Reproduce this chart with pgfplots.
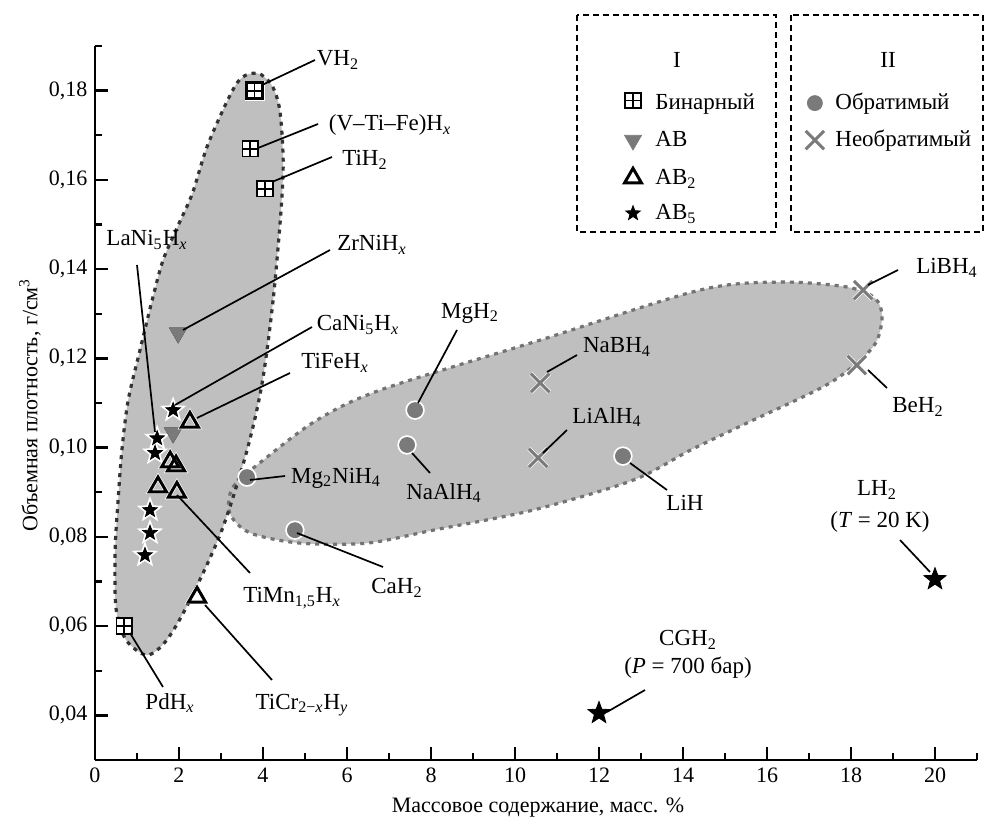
\documentclass[border=0pt]{standalone}
\usepackage{fontspec}
\setmainfont{Liberation Serif}
\usepackage{pgfplots}
\pgfplotsset{compat=1.18}
\definecolor{regfill}{gray}{0.75}
\definecolor{mk}{gray}{0.48}
\definecolor{dashg}{gray}{0.45}
\newcommand{\s}[1]{\textsubscript{#1}}
\newcommand{\sx}{\textsubscript{\textit{x}}}
\pgfdeclareplotmark{gridsq}{%
  \pgfpathrectangle{\pgfpoint{-\pgfplotmarksize}{-\pgfplotmarksize}}{\pgfpoint{2\pgfplotmarksize}{2\pgfplotmarksize}}%
  \pgfusepathqfillstroke
  \pgfsetlinewidth{0.9pt}%
  \pgfpathmoveto{\pgfpoint{-\pgfplotmarksize}{0pt}}\pgfpathlineto{\pgfpoint{\pgfplotmarksize}{0pt}}%
  \pgfpathmoveto{\pgfpoint{0pt}{-\pgfplotmarksize}}\pgfpathlineto{\pgfpoint{0pt}{\pgfplotmarksize}}%
  \pgfusepathqstroke}
\pgfdeclareplotmark{fstar}{%
  \pgfpathmoveto{\pgfpointpolar{90}{\pgfplotmarksize}}%
  \pgfpathlineto{\pgfpointpolar{126}{0.42\pgfplotmarksize}}%
  \pgfpathlineto{\pgfpointpolar{162}{\pgfplotmarksize}}%
  \pgfpathlineto{\pgfpointpolar{198}{0.42\pgfplotmarksize}}%
  \pgfpathlineto{\pgfpointpolar{234}{\pgfplotmarksize}}%
  \pgfpathlineto{\pgfpointpolar{270}{0.42\pgfplotmarksize}}%
  \pgfpathlineto{\pgfpointpolar{306}{\pgfplotmarksize}}%
  \pgfpathlineto{\pgfpointpolar{342}{0.42\pgfplotmarksize}}%
  \pgfpathlineto{\pgfpointpolar{18}{\pgfplotmarksize}}%
  \pgfpathlineto{\pgfpointpolar{54}{0.42\pgfplotmarksize}}%
  \pgfpathclose
  \pgfusepathqfillstroke}
\pgfplotsset{
  halo/.style={only marks, forget plot, mark options={draw=white, fill=white, line width=2.2pt}},
}
\begin{document}
\fontsize{11}{13}\selectfont
\begin{tikzpicture}
\useasboundingbox (-47.5pt,-32.5pt) rectangle (445.5pt,380pt);
\begin{axis}[
  at={(0pt,0pt)}, anchor=south west,
  scale only axis, width=441pt, height=357pt,
  xmin=0, xmax=21, ymin=0.03, ymax=0.19,
  axis lines=left, axis line style={-, line width=1.2pt},
  tick align=inside,
  xtick={0,2,4,6,8,10,12,14,16,18,20},
  minor xtick={1,3,5,7,9,11,13,15,17,19,21},
  ytick={0.04,0.06,0.08,0.10,0.12,0.14,0.16,0.18},
  minor ytick={0.05,0.07,0.09,0.11,0.13,0.15,0.17,0.19},
  major tick length=6.5pt, minor tick length=3.5pt,
  every tick/.style={black, line width=1.2pt},
  tick label style={font=\fontsize{11}{13}\selectfont},
  /pgf/number format/assume math mode=true,
  yticklabel style={/pgf/number format/.cd, fixed, fixed zerofill, precision=2, use comma},
  clip=false,
]
% regions
\addplot[draw=none, fill=regfill, smooth cycle, forget plot] coordinates {
(3.21,0.0853) (3.29,0.0912) (4.10,0.0979) (5.29,0.1062) (6.79,0.1129) (10.6,0.1241) (14.4,0.1353) (16.31,0.1371) (17.9,0.1360) (18.57,0.1335) (18.74,0.1292) (18.52,0.1225) (17.5,0.1145) (15.52,0.1055) (14.17,0.0994) (12.81,0.0927) (10.43,0.0860) (8.05,0.0815) (6.48,0.0786) (4.88,0.0786) (3.69,0.0809)};
\addplot[draw=none, fill=regfill, smooth cycle, forget plot] coordinates {
(4.43,0.1532) (4.24,0.1330) (3.98,0.1145) (3.62,0.0994) (3.02,0.0815) (2.26,0.0658) (1.71,0.0569) (1.24,0.0535) (0.74,0.0569) (0.50,0.0640) (0.48,0.0770) (0.55,0.0882) (0.64,0.0994) (0.79,0.1106) (1.07,0.1218) (1.36,0.1330) (1.62,0.1420) (1.98,0.1498) (2.32,0.1570) (2.70,0.1682) (3.38,0.1817) (3.86,0.1839) (4.21,0.1812) (4.40,0.1756) (4.48,0.1644)};
\addplot[draw=dashg, line width=1.6pt, dash pattern=on 2pt off 2.5pt, smooth cycle, forget plot] coordinates {
(3.21,0.0853) (3.29,0.0912) (4.10,0.0979) (5.29,0.1062) (6.79,0.1129) (10.6,0.1241) (14.4,0.1353) (16.31,0.1371) (17.9,0.1360) (18.57,0.1335) (18.74,0.1292) (18.52,0.1225) (17.5,0.1145) (15.52,0.1055) (14.17,0.0994) (12.81,0.0927) (10.43,0.0860) (8.05,0.0815) (6.48,0.0786) (4.88,0.0786) (3.69,0.0809)};
\addplot[draw=black!80, line width=1.6pt, dash pattern=on 2pt off 2.5pt, smooth cycle, forget plot] coordinates {
(4.43,0.1532) (4.24,0.1330) (3.98,0.1145) (3.62,0.0994) (3.02,0.0815) (2.26,0.0658) (1.71,0.0569) (1.24,0.0535) (0.74,0.0569) (0.50,0.0640) (0.48,0.0770) (0.55,0.0882) (0.64,0.0994) (0.79,0.1106) (1.07,0.1218) (1.36,0.1330) (1.62,0.1420) (1.98,0.1498) (2.32,0.1570) (2.70,0.1682) (3.38,0.1817) (3.86,0.1839) (4.21,0.1812) (4.40,0.1756) (4.48,0.1644)};
% binary
\addplot[halo, mark=gridsq, mark size=3.9pt] coordinates {(3.8,0.180) (3.7,0.167) (4.05,0.158) (0.7,0.060)};
\addplot[only marks, mark=gridsq, mark size=3.9pt, mark options={draw=black, fill=white, line width=1.5pt}] coordinates {(3.8,0.180) (3.7,0.167) (4.05,0.158) (0.7,0.060) (12.81,0.1778)};
% AB5 stars
\addplot[halo, mark=fstar, mark size=3.8pt] coordinates {(1.86,0.1084) (1.48,0.1021) (1.43,0.0988) (1.31,0.0860) (1.31,0.0809) (1.19,0.0759)};
\addplot[only marks, mark=fstar, mark size=3.8pt, mark options={draw=black, fill=black, line width=0.4pt}] coordinates {(1.86,0.1084) (1.48,0.1021) (1.43,0.0988) (1.31,0.0860) (1.31,0.0809) (1.19,0.0759) (12.81,0.1525)};
% AB
\addplot[halo, mark=triangle*, mark size=4.9pt, mark options={rotate=180}] coordinates {(1.98,0.1257) (1.86,0.1033)};
\addplot[only marks, mark=triangle*, mark size=4.9pt, mark options={rotate=180, draw=mk, fill=mk, line width=0.4pt}] coordinates {(1.98,0.1257) (1.86,0.1033) (12.81,0.1689)};
% AB2
\addplot[halo, mark=triangle, mark size=4.9pt] coordinates {(2.26,0.1057) (1.79,0.0968) (1.93,0.0959) (1.5,0.0912) (1.95,0.0900) (2.43,0.0665)};
\addplot[only marks, mark=triangle, mark size=4.9pt, mark options={draw=black, fill=none, line width=1.5pt}] coordinates {(2.26,0.1057) (1.79,0.0968) (1.93,0.0959) (1.5,0.0912) (1.95,0.0900) (2.43,0.0665) (12.81,0.1604)};
% reversible
\addplot[halo, mark=*, mark size=3.75pt] coordinates {(7.62,0.1084) (7.43,0.1006) (3.62,0.0934) (4.76,0.0815) (12.57,0.0981)};
\addplot[only marks, mark=*, mark size=3.75pt, mark options={draw=mk, fill=mk, line width=0.4pt}] coordinates {(7.62,0.1084) (7.43,0.1006) (3.62,0.0934) (4.76,0.0815) (12.57,0.0981) (17.14,0.1772)};
% irreversible
\addplot[halo, mark=x, mark size=6.5pt] coordinates {(10.6,0.1145) (10.55,0.0977) (18.29,0.1353) (18.14,0.1185)};
\addplot[only marks, mark=x, mark size=6.5pt, mark options={draw=mk, line width=1.5pt}] coordinates {(10.6,0.1145) (10.55,0.0977) (18.29,0.1353) (18.14,0.1185) (17.14,0.1689)};
% CGH2, LH2
\addplot[only marks, mark=fstar, mark size=5.8pt, mark options={draw=black, fill=black, line width=0.4pt}] coordinates {(12,0.0405) (20,0.0705)};
\end{axis}
\begin{scope}[x=0.5pt, y=-0.5pt, shift={(-47.5pt,380pt)}, every node/.style={font=\fontsize{11.5}{13}\selectfont, inner sep=0pt}]
% leader lines
\begin{scope}[line width=0.85pt]
\draw (262,85)--(315,60);
\draw (258,148)--(318,124);
\draw (272,182)--(332,157);
\draw (183,330)--(330,250);
\draw (137,265)--(155,432);
\draw (175,405)--(312,327);
\draw (197,418)--(290,373);
\draw (418,403)--(457,330);
\draw (547,372)--(577,355);
\draw (543,453)--(567,430);
\draw (250,480)--(285,476);
\draw (412,453)--(430,473);
\draw (630,463)--(667,490);
\draw (297,533)--(383,567);
\draw (177,495)--(250,573);
\draw (130,633)--(163,687);
\draw (205,605)--(272,680);
\draw (868,285)--(898,270);
\draw (868,370)--(887,388);
\draw (900,540)--(930,572);
\draw (607,712)--(645,690);
\end{scope}
% labels
\node at (338,60) {VH\s{2}};
\node at (390,125) {(V–Ti–Fe)H\sx};
\node at (365,160) {TiH\s{2}};
\node at (372,245) {ZrNiH\sx};
\node at (147,240) {LaNi\s{5}H\sx};
\node at (358,325) {CaNi\s{5}H\sx};
\node at (335,363) {TiFeH\sx};
\node at (470,313) {MgH\s{2}};
\node at (617,347) {NaBH\s{4}};
\node at (607,417) {LiAlH\s{4}};
\node at (336,478) {Mg\s{2}NiH\s{4}};
\node at (444,493) {NaAlH\s{4}};
\node at (685,503) {LiH};
\node at (397,588) {CaH\s{2}};
\node at (292,598) {TiMn\s{1,5}H\sx};
\node at (170,703) {PdH\sx};
\node at (302,705) {TiCr\s{2−\textit{x}}H\s{\textit{y}}};
\node at (947,268) {LiBH\s{4}};
\node at (918,407) {BeH\s{2}};
\node at (877,490) {LH\s{2}};
\node at (880,522) {(\textit{T} = 20 K)};
\node at (688,640) {CGH\s{2}};
\node at (688,668) {(\textit{P} = 700 бар)};
% legend boxes
\draw[line width=0.8pt, dash pattern=on 3pt off 2pt] (577,15) rectangle (776,232);
\draw[line width=0.8pt, dash pattern=on 3pt off 2pt] (791,15) rectangle (983,232);
\node at (677,60) {I};
\node at (888,60) {II};
\node[anchor=base west] at (655,110) {Бинарный};
\node[anchor=base west] at (655,147) {AB};
\node[anchor=base west] at (655,185) {AB\s{2}};
\node[anchor=base west] at (655,220) {AB\s{5}};
\node[anchor=base west] at (835,110) {Обратимый};
\node[anchor=base west] at (835,147) {Необратимый};
% axis labels
\node[font=\fontsize{11}{13}\selectfont] at (538,808) {Массовое содержание, масс. \%};
\node[font=\fontsize{11}{13}\selectfont, rotate=90] at (30,405) {Объемная плотность, г/см\textsuperscript{3}};
\end{scope}
\end{tikzpicture}
\end{document}
